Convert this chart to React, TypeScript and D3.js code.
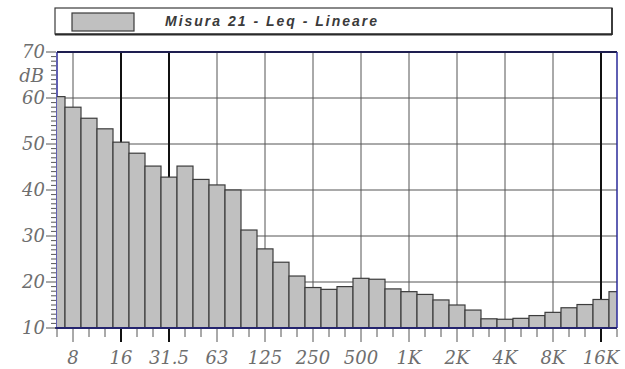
import React from 'react';
import * as d3 from 'd3';

// Third-octave band centres, 6.3 Hz .. 20 kHz
const bands = ['6.3', '8', '10', '12.5', '16', '20', '25', '31.5', '40', '50', '63', '80', '100', '125', '160', '200', '250', '315', '400', '500', '630', '800', '1K', '1.25K', '1.6K', '2K', '2.5K', '3.15K', '4K', '5K', '6.3K', '8K', '10K', '12.5K', '16K', '20K'];
// Leq per band, dB (linear weighting)
const levels = [60.3, 58.0, 55.6, 53.3, 50.4, 48.0, 45.2, 42.8, 45.2, 42.3, 41.1, 40.0, 31.3, 27.2, 24.3, 21.3, 18.8, 18.4, 19.0, 20.8, 20.6, 18.5, 17.9, 17.3, 16.1, 15.0, 13.9, 12.0, 11.9, 12.1, 12.7, 13.4, 14.4, 15.1, 16.2, 17.9];
// Octave bands that get a label and a grid line
const octaveLabels = ['8', '16', '31.5', '63', '125', '250', '500', '1K', '2K', '4K', '8K', '16K'];
// Cursor bands drawn as heavy lines
const cursorBands = ['16', '31.5', '16K'];
const yLabels = [10, 20, 30, 40, 50, 60, 70];
const legendText = 'Misura 21 - Leq - Lineare';

const W = 625;
const H = 369;
const L = 57, R = 617, T = 52, B = 328;

export default function App() {
  const x = d3.scaleLinear().domain([0, bands.length - 1]).range([L, R]);
  const y = d3.scaleLinear().domain([10, 70]).range([B, T]);
  const idx = (b: string) => bands.indexOf(b);
  const minorY = d3.range(10, 71, 1);
  const labelFont = "'DejaVu Serif', serif";
  const labelColor = '#6e6e6e';

  return (
    <svg width={W} height={H} style={{ position: 'absolute', left: 0, top: 0, background: '#fff' }}>
      <defs>
        <clipPath id="plot">
          <rect x={L} y={T} width={R - L} height={B - T} />
        </clipPath>
      </defs>

      {/* legend */}
      <rect x={55} y={8} width={557} height={26} fill="#fff" stroke="#3a3a3a" strokeWidth={1.2} />
      <line x1={55} x2={612} y1={34.5} y2={34.5} stroke="#2a2a2a" strokeWidth={2} />
      <line x1={612} x2={612} y1={8} y2={35} stroke="#2a2a2a" strokeWidth={1.6} />
      <rect x={72} y={13} width={62} height={18} fill="#c0c0c0" stroke="#3a3a3a" strokeWidth={1.2} />
      <text x={165} y={26} fontFamily="'Liberation Sans', Arial, sans-serif" fontStyle="italic" fontWeight="bold" fontSize={14}
        textLength={212} lengthAdjust="spacing" fill="#3a3a3a">
        {legendText}
      </text>

      {/* horizontal grid */}
      {yLabels.filter(v => v > 10 && v < 70).map(v => (
        <line key={'h' + v} x1={L} x2={R} y1={y(v)} y2={y(v)} stroke="#555" strokeWidth={1} />
      ))}
      {/* vertical grid at octave bands */}
      {octaveLabels.map(b => (
        <line key={'v' + b} x1={x(idx(b))} x2={x(idx(b))} y1={T} y2={B}
          stroke={cursorBands.includes(b) ? '#111' : '#555'}
          strokeWidth={cursorBands.includes(b) ? 2 : 1} />
      ))}
      {/* left axis */}
      <line x1={L} x2={L} y1={T} y2={B} stroke="#2a2a9a" strokeWidth={1.5} />

      {/* bars */}
      <g clipPath="url(#plot)">
        {levels.map((v, i) => (
          <rect key={bands[i]} x={x(i - 0.5)} y={y(v)} width={x(i + 0.5) - x(i - 0.5)} height={B - y(v)}
            fill="#c0c0c0" stroke="#3c3c3c" strokeWidth={1.2} />
        ))}
      </g>

      {/* frame */}
      <line x1={L} x2={R} y1={T} y2={T} stroke="#1e1e50" strokeWidth={2} />
      <line x1={R} x2={R} y1={T} y2={B} stroke="#2a2a9a" strokeWidth={1.5} />
      <line x1={L - 2} x2={R} y1={B} y2={B} stroke="#24246e" strokeWidth={2} />

      {/* y ticks */}
      {minorY.map(v => (
        <line key={'yt' + v} x1={v % 10 === 0 ? 46 : 51} x2={L - 1} y1={y(v)} y2={y(v)} stroke="#555" strokeWidth={1} />
      ))}
      {yLabels.map(v => (
        <text key={'yl' + v} x={45} y={y(v) + 6} textAnchor="end" fontFamily={labelFont} fontStyle="italic" fontSize={18} fill={labelColor}>
          {v}
        </text>
      ))}
      <text x={44} y={y(65) + 7} textAnchor="end" fontFamily={labelFont} fontStyle="italic" fontSize={18} fill={labelColor}>dB</text>

      {/* x ticks */}
      {bands.map((b, i) => {
        const major = octaveLabels.includes(b);
        const cur = cursorBands.includes(b);
        return (
          <line key={'xt' + b} x1={x(i)} x2={x(i)} y1={B + 1} y2={B + (major ? 14 : 9)}
            stroke={cur ? '#111' : '#555'} strokeWidth={cur ? 2 : 1} />
        );
      })}
      {octaveLabels.map(b => (
        <text key={'xl' + b} x={x(idx(b))} y={364} textAnchor="middle" fontFamily={labelFont} fontStyle="italic" fontSize={18} fill={labelColor}>
          {b}
        </text>
      ))}
    </svg>
  );
}
